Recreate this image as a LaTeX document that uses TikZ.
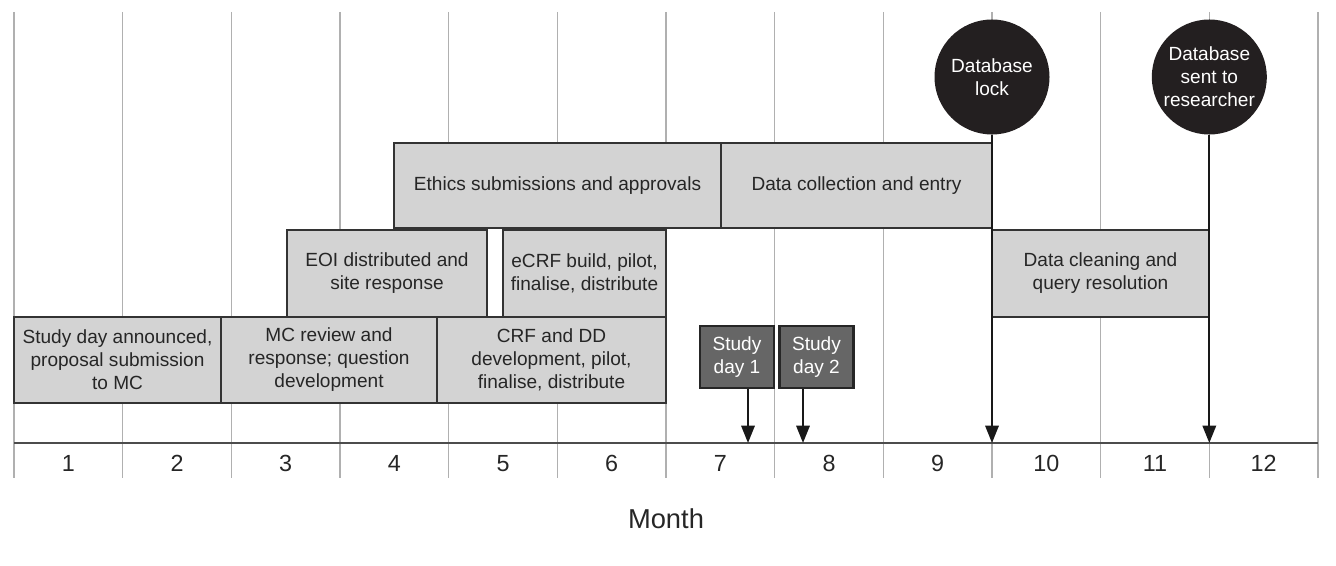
\documentclass[tikz,border=0pt]{standalone}
\usepackage{fontspec}
\setmainfont{Liberation Sans}
\usetikzlibrary{arrows.meta}
\definecolor{barfill}{HTML}{D3D3D3}
\definecolor{barline}{HTML}{333333}
\definecolor{dayfill}{HTML}{666666}
\definecolor{milefill}{HTML}{231F20}
\definecolor{gridgray}{HTML}{B0B0B0}
\tikzset{
  taskbar/.style 2 args={draw=barline, fill=barfill, line width=1.2pt, inner sep=0pt,
    align=center, minimum width=#1*0.75pt, minimum height=#2*0.75pt,
    text=black!85, font=\fontsize{14.3}{17.25}\selectfont},
  daybox/.style={taskbar={74}{62}, fill=dayfill, draw=black!85, line width=1.6pt, text=white},
  milestone/.style={circle, fill=milefill, minimum size=115*0.75pt, inner sep=0pt,
    align=center, text=white, font=\fontsize{14.3}{17.25}\selectfont},
  pointer/.style={-{Triangle[length=13pt,width=10pt]}, line width=1.7pt, draw=black!90}
}
\begin{document}
\begin{tikzpicture}[x=0.75pt, y=-0.75pt]
  \newcommand{\mw}{108.667}
  \useasboundingbox (0,0) rectangle (1336,566);

  % month grid and axis
  \foreach \i in {0,...,12}
    \draw[gridgray, line width=0.8pt] (14+\i*\mw,12) -- (14+\i*\mw,478);
  \draw[black!70, line width=1.1pt] (14,443) -- (1318,443);
  \foreach \m in {1,...,12}
    \node[font=\fontsize{17.5}{20}\selectfont, text=black!85, anchor=base] (m\m) at (14+\m*\mw-0.5*\mw,472) {\m};
  \node[font=\fontsize{20.5}{24}\selectfont, text=black!85] (month) at (666,519) {Month};

  % tasks
  \node[taskbar={207}{86}] (announce) at (117.5,360) {Study day announced,\\proposal submission\\to MC};
  \node[taskbar={216}{86}] (review) at (329,360) {MC review and\\response; question\\development};
  \node[taskbar={229}{86}] (crf) at (551.5,360) {CRF and DD\\development, pilot,\\finalise, distribute};
  \node[taskbar={200}{87}] (eoi) at (387,273.5) {EOI distributed and\\site response};
  \node[taskbar={163}{87}] (ecrf) at (584.5,273.5) {eCRF build, pilot,\\finalise, distribute};
  \node[taskbar={327}{85}] (ethics) at (557.5,185.5) {Ethics submissions and approvals};
  \node[taskbar={271}{85}] (collect) at (856.5,185.5) {Data collection and entry};
  \node[taskbar={217}{87}] (clean) at (1100.5,273.5) {Data cleaning and\\query resolution};

  % study days
  \node[daybox] (day1) at (737,357) {Study\\day 1};
  \node[daybox] (day2) at (816.5,357) {Study\\day 2};
  \coordinate (hit1) at (748,443);
  \coordinate (hit2) at (803,443);
  \draw[pointer] (day1.south -| hit1) -- (hit1);
  \draw[pointer] (day2.south -| hit2) -- (hit2);

  % milestones
  \node[milestone] (lock) at (992,77) {Database\\lock};
  \node[milestone] (sent) at (1209.3,77) {Database\\sent to\\researcher};
  \coordinate (hit3) at (992,443);
  \coordinate (hit4) at (1209.3,443);
  \draw[pointer] (lock.south) -- (hit3);
  \draw[pointer] (sent.south) -- (hit4);
\end{tikzpicture}
\end{document}
